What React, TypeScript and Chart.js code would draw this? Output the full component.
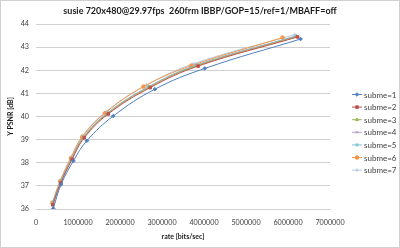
import React, { useEffect, useRef } from 'react';
import { Chart, registerables } from 'chart.js';
import { drawPoint } from 'chart.js/helpers';

Chart.register(...registerables);

const TITLE = 'susie 720x480@29.97fps  260frm IBBP/GOP=15/ref=1/MBAFF=off';
const X_TITLE = 'rate [bits/sec]';
const Y_TITLE = 'Y PSNR [dB]';

const SERIES_NAMES = ['subme=1', 'subme=2', 'subme=3', 'subme=4', 'subme=5', 'subme=6', 'subme=7'];
const SERIES_COLORS = ['#4F81BD', '#C0504D', '#9BBB59', '#B3A2C7', '#7FC4DA', '#F79646', '#B9CDE5'];
const SERIES_MARKERS = ['rectRot', 'rect', 'triangle', 'crossRot', 'star', 'circle', 'cross'];

const RATE_1 = [410000, 600000, 890000, 1210000, 1840000, 2830000, 4020000, 6300000];
const PSNR_1 = [36.02, 37.07, 38.08, 38.95, 40.02, 41.18, 42.08, 43.35];
const RATE_2 = [400000, 590000, 860000, 1150000, 1720000, 2720000, 3860000, 6230000];
const PSNR_2 = [36.18, 37.13, 38.15, 39.08, 40.11, 41.25, 42.18, 43.44];
const RATE_3 = [398000, 588000, 855000, 1140000, 1710000, 2700000, 3840000, 6210000];
const PSNR_3 = [36.22, 37.15, 38.17, 39.10, 40.13, 41.27, 42.20, 43.46];
const RATE_4 = [396000, 586000, 852000, 1135000, 1700000, 2690000, 3820000, 6190000];
const PSNR_4 = [36.24, 37.17, 38.18, 39.11, 40.14, 41.28, 42.21, 43.47];
const RATE_5 = [395000, 585000, 850000, 1130000, 1695000, 2680000, 3810000, 6180000];
const PSNR_5 = [36.25, 37.18, 38.19, 39.12, 40.15, 41.29, 42.22, 43.48];
const RATE_6 = [390000, 575000, 830000, 1100000, 1640000, 2560000, 3700000, 5870000];
const PSNR_6 = [36.27, 37.20, 38.20, 39.12, 40.14, 41.29, 42.20, 43.41];
const RATE_7 = [393000, 580000, 840000, 1120000, 1670000, 2630000, 3760000, 6160000];
const PSNR_7 = [36.31, 37.25, 38.27, 39.19, 40.22, 41.36, 42.29, 43.54];

const RATES = [RATE_1, RATE_2, RATE_3, RATE_4, RATE_5, RATE_6, RATE_7];
const PSNRS = [PSNR_1, PSNR_2, PSNR_3, PSNR_4, PSNR_5, PSNR_6, PSNR_7];

const X_MIN = 0;
const X_MAX = 7000000;
const X_STEP = 1000000;
const Y_MIN = 36;
const Y_MAX = 44;
const Y_STEP = 1;

const FONT = 'Lato, "Liberation Sans", sans-serif';

const framePlugin = {
  id: 'frame',
  beforeDraw(chart: any) {
    const { ctx, width, height } = chart;
    ctx.save();
    ctx.fillStyle = '#ffffff';
    ctx.fillRect(0, 0, width, height);
    ctx.restore();
  },
  afterDraw(chart: any) {
    const { ctx, width, height } = chart;
    ctx.save();
    ctx.strokeStyle = '#d0d0d0';
    ctx.lineWidth = 1;
    ctx.strokeRect(0.5, 0.5, width - 1, height - 1);
    // title
    ctx.fillStyle = '#1a1a1a';
    ctx.font = `bold 9px ${FONT}`;
    ctx.textAlign = 'center';
    ctx.textBaseline = 'middle';
    ctx.fillText(TITLE, 200, 11);
    // legend
    ctx.font = `8px ${FONT}`;
    ctx.textAlign = 'left';
    SERIES_NAMES.forEach((name, i) => {
      const y = 94.5 + i * 12.6;
      const c = SERIES_COLORS[i];
      ctx.strokeStyle = c;
      ctx.fillStyle = c;
      ctx.lineWidth = 1;
      ctx.beginPath();
      ctx.moveTo(352, y);
      ctx.lineTo(362, y);
      ctx.stroke();
      drawPoint(ctx, { pointStyle: SERIES_MARKERS[i] as any, rotation: 0, radius: 1.8, borderWidth: 1 }, 357, y);
      ctx.fillStyle = '#404040';
      ctx.fillText(name, 364, y + 0.5);
    });
    ctx.restore();
  },
};

export default function App() {
  const ref = useRef<HTMLCanvasElement>(null);
  useEffect(() => {
    const canvas = ref.current!;
    const datasets = SERIES_NAMES.map((name, i) => ({
      label: name,
      data: RATES[i].map((r, j) => ({ x: r, y: PSNRS[i][j] })),
      showLine: true,
      borderColor: SERIES_COLORS[i],
      backgroundColor: SERIES_COLORS[i],
      borderWidth: 1,
      tension: 0.4,
      pointStyle: SERIES_MARKERS[i] as any,
      pointRadius: 1.8,
      pointBorderWidth: 1,
      pointBorderColor: SERIES_COLORS[i],
      pointBackgroundColor: SERIES_COLORS[i],
    }));
    const chart = new Chart(canvas, {
      type: 'scatter',
      data: { datasets },
      plugins: [framePlugin],
      options: {
        responsive: false,
        devicePixelRatio: 1,
        animation: false,
        layout: { padding: { left: 0, top: 24, right: 70, bottom: 0 } },
        plugins: {
          legend: { display: false },
          title: { display: false },
          tooltip: { enabled: false },
        },
        scales: {
          x: {
            type: 'linear',
            min: X_MIN,
            max: X_MAX,
            ticks: {
              stepSize: X_STEP,
              color: '#404040',
              font: { family: FONT, size: 7.2 },
              padding: 9,
              maxRotation: 0,
              callback: (v: any) => String(v),
            },
            grid: { display: false, drawTicks: false },
            border: { display: true, color: '#d0d0d0' },
            title: {
              display: true,
              text: X_TITLE,
              color: '#1a1a1a',
              font: { family: FONT, size: 7, weight: 'bold' },
              padding: { top: 0, bottom: 7 },
            },
            afterFit: (s: any) => { s.height = 39; },
          },
          y: {
            type: 'linear',
            min: Y_MIN,
            max: Y_MAX,
            ticks: {
              stepSize: Y_STEP,
              color: '#404040',
              font: { family: FONT, size: 7.2 },
              padding: 7,
            },
            grid: { display: true, color: '#d0d0d0', drawTicks: false },
            border: { display: false },
            title: {
              display: true,
              text: Y_TITLE,
              color: '#1a1a1a',
              font: { family: FONT, size: 7, weight: 'bold' },
              padding: { top: 7, bottom: 0 },
            },
            afterFit: (s: any) => { s.width = 36; },
          },
        },
      } as any,
    });
    return () => chart.destroy();
  }, []);
  return (
    <div style={{ position: 'fixed', left: 0, top: 0, width: 400, height: 248 }}>
      <canvas ref={ref} width={400} height={248} style={{ display: 'block', width: 400, height: 248 }} />
    </div>
  );
}
